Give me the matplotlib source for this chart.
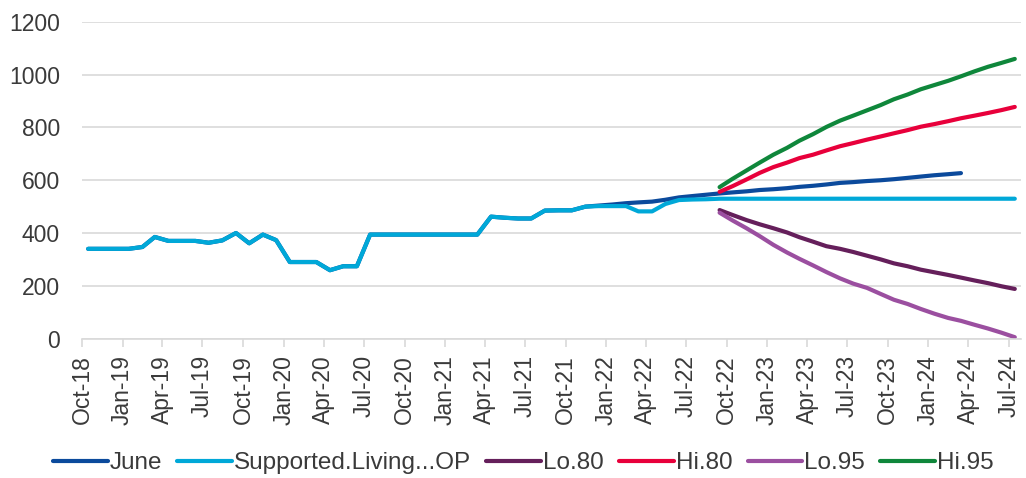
import matplotlib
matplotlib.use('Agg')
import matplotlib.pyplot as plt
import matplotlib.dates as mdates
import pandas as pd

plt.rcParams['font.family'] = ['Liberation Sans', 'DejaVu Sans']

# ── Data (monthly, Oct-18 .. Jul-24) ─────────────────────────────────────────
start = '2018-10-01'

sl_op = [340, 340, 340, 340, 347, 385, 370, 370, 370, 363, 372, 400,
         361, 394, 373, 290, 290, 290, 259, 274, 274, 394, 394, 394,
         394, 394, 394, 394, 394, 394, 462, 458, 455, 455, 485, 486,
         486, 500, 502, 502, 502, 482, 482, 510, 525, 527, 528, 530,
         530, 530, 530, 530, 530, 530, 530, 530, 530, 530, 530, 530,
         530, 530, 530, 530, 530, 530, 530, 530, 530, 530]

june = [340, 340, 340, 340, 347, 385, 370, 370, 370, 363, 372, 400,
        361, 394, 373, 290, 290, 290, 259, 274, 274, 394, 394, 394,
        394, 394, 394, 394, 394, 394, 462, 458, 455, 455, 485, 486,
        486, 500, 504, 508, 513, 516, 519, 526, 535, 540, 545, 550,
        554, 558, 563, 566, 570, 575, 579, 584, 590, 593, 597, 600,
        604, 609, 614, 619, 623, 627]

# forecast intervals start at Sep-22
lo80 = [487, 468, 449, 433, 418, 402, 384, 367, 350, 340, 328, 314,
        300, 285, 274, 261, 251, 241, 231, 220, 210, 198, 188]
hi80 = [556, 578, 603, 628, 650, 667, 684, 697, 713, 729, 741, 754,
        766, 778, 790, 803, 813, 824, 835, 845, 855, 866, 878]
lo95 = [477, 447, 418, 388, 355, 326, 302, 277, 252, 228, 208, 192,
        169, 147, 131, 112, 94, 78, 67, 52, 38, 22, 5]
hi95 = [574, 606, 637, 667, 697, 723, 750, 775, 802, 826, 845, 865,
        885, 907, 925, 945, 961, 977, 994, 1013, 1030, 1045, 1060]

# points sit mid-month, ticks on the 1st
dates = pd.date_range(start, periods=len(sl_op), freq='MS') + pd.Timedelta(days=14)
fc_dates = dates[-len(lo80):]

# ── Colours ───────────────────────────────────────────────────────────────────
C_JUNE = '#0b4a9c'
C_SL   = '#00a8d8'
C_LO80 = '#651f5b'
C_HI80 = '#e8003b'
C_LO95 = '#9b4fa0'
C_HI95 = '#0f873b'
C_TEXT = '#3a3a3a'
C_GRID = '#d9d9d9'

fig = plt.figure(figsize=(10.26, 4.78), dpi=100)
ax = fig.add_axes([0.0799, 0.2918, 0.9152, 0.6622])

lw = 3
ax.plot(dates[:len(june)], june, color=C_JUNE, lw=lw, label='June', solid_capstyle='round')
ax.plot(dates, sl_op, color=C_SL, lw=lw, label='Supported.Living...OP', solid_capstyle='round')
ax.plot(fc_dates, lo80, color=C_LO80, lw=lw, label='Lo.80', solid_capstyle='round')
ax.plot(fc_dates, hi80, color=C_HI80, lw=lw, label='Hi.80', solid_capstyle='round')
ax.plot(fc_dates, lo95, color=C_LO95, lw=lw, label='Lo.95', solid_capstyle='round')
ax.plot(fc_dates, hi95, color=C_HI95, lw=lw, label='Hi.95', solid_capstyle='round')

ax.set_ylim(0, 1200)
ax.set_yticks(range(0, 1201, 200))
ax.set_xlim(pd.Timestamp('2018-10-01'), pd.Timestamp('2024-07-29'))
ax.xaxis.set_major_locator(mdates.MonthLocator(bymonth=[1, 4, 7, 10]))
ax.xaxis.set_major_formatter(mdates.DateFormatter('%b-%y'))

ax.grid(axis='y', color=C_GRID, lw=1.2, zorder=0)
ax.set_axisbelow(True)
for side in ['top', 'right', 'left']:
    ax.spines[side].set_visible(False)
ax.spines['bottom'].set_color(C_GRID)
ax.spines['bottom'].set_linewidth(1.2)

ax.tick_params(axis='x', colors=C_GRID, length=6, width=1.2, labelrotation=90,
               labelsize=16.5, labelcolor=C_TEXT, pad=6)
ax.tick_params(axis='y', length=0, labelsize=16.5, labelcolor=C_TEXT, pad=16)

ax.legend(loc='center', bbox_to_anchor=(0.51, 0.031), bbox_transform=fig.transFigure,
          ncol=6, frameon=False, fontsize=17.5, handlelength=2.26, handletextpad=0.08,
          columnspacing=0.62, labelcolor=C_TEXT, borderaxespad=0)

fig.savefig('out.png', dpi=100)
